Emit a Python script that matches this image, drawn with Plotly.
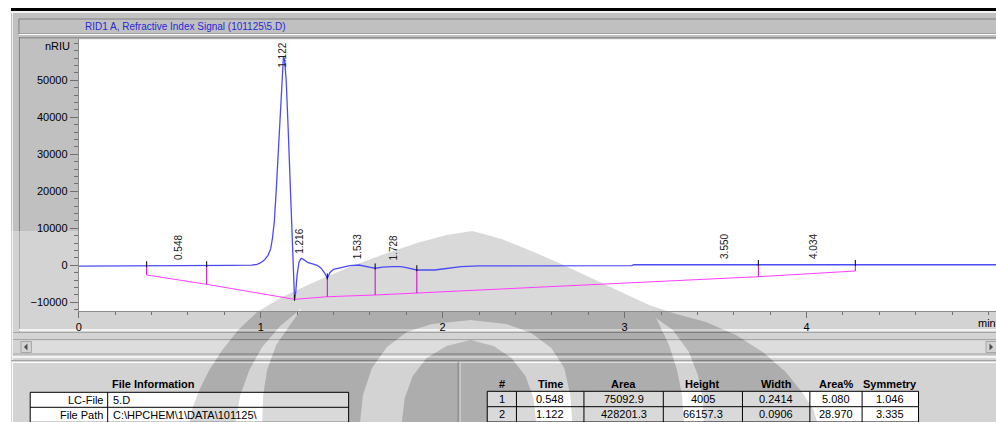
import numpy as np
import plotly.graph_objects as go

W, H = 996, 422

# ---- RID1 A chromatogram (time in min, response in nRIU)
sig_t = [0.00, 0.60, 0.82, 0.83, 0.95, 0.98, 1.00, 1.02, 1.04, 1.055, 1.065, 1.075,
         1.085, 1.095, 1.105, 1.113, 1.119, 1.125, 1.131, 1.14, 1.15, 1.16, 1.17,
         1.178, 1.186, 1.192, 1.20, 1.21, 1.222, 1.235, 1.26, 1.285, 1.31, 1.33,
         1.35, 1.366, 1.38, 1.40, 1.44, 1.49, 1.54, 1.58, 1.61, 1.63, 1.67, 1.72,
         1.77, 1.80, 1.83, 1.858, 1.90, 1.956, 2.00, 2.05, 2.10, 2.20, 2.50, 2.80,
         3.04, 3.05, 3.50, 4.00, 4.50, 5.05]
sig_v = [-200, -200, -200, 0, 50, 250, 700, 1400, 2700, 4500, 7500, 12000,
         20000, 30000, 40000, 48000, 54000, 56500, 55500, 50000, 38000, 25000, 11000,
         0, -9300, -7500, -2500, 800, 1900, 1600, 700, 400, 0, -700,
         -2000, -3500, -2000, -1100, -600, -100, 80, -200, -600, -800, -500, -380,
         -380, -600, -1000, -1270, -1270, -1270, -1000, -650, -380, -150, -100, -100,
         -100, 150, 150, 150, 150, 150]

# integration events (start / drop / end) and the baseline drawn through them
evt_t = [0.373, 0.703, 1.186, 1.366, 1.629, 1.858, 3.735, 4.268]
base_v = [-2620, -5135, -9200, -8490, -8030, -7490, -3080, -1540]

# retention times written above the peaks
peak_rt = [0.548, 1.122, 1.216, 1.533, 1.728, 3.550, 4.034]

x_tickvals = [0, 1, 2, 3, 4]
y_tickvals = [-10000, 0, 10000, 20000, 30000, 40000, 50000]

# ---- report panels
file_keys = ["LC-File", "File Path"]
file_vals = ["5.D", "C:\\HPCHEM\\1\\DATA\\101125\\"]

rep_cols = ["#", "Time", "Area", "Height", "Width", "Area%", "Symmetry"]
rep_nr = ["1", "2"]
rep_time = ["0.548", "1.122"]
rep_area = ["75092.9", "428201.3"]
rep_height = ["4005", "66157.3"]
rep_width = ["0.2414", "0.0906"]
rep_areapct = ["5.080", "28.970"]
rep_sym = ["1.046", "3.335"]

# ---- screen geometry (pixels)
PL, PR, PT, PB = 76, 996, 39.3, 311.3
PX_PER_MIN = 182.5
PX_PER_UNIT = 0.0037
Y0_PX = 265.3
x_range = [0, (PR - PL) / PX_PER_MIN]
y_range = [-(PB - Y0_PX) / PX_PER_UNIT, (Y0_PX - PT) / PX_PER_UNIT]

FONT = "Liberation Sans"
GRAY = "#c0c0c0"
DARK = "#808080"
LIGHT = "#eeeeee"


def fx(x):
    return x / W


def fy(y):
    return 1 - y / H


shapes = []
annotations = []


def rect(x0, y0, x1, y1, fill, line=None, lw=1):
    shapes.append(dict(type="rect", xref="paper", yref="paper",
                       x0=fx(x0), x1=fx(x1), y0=fy(y1), y1=fy(y0),
                       fillcolor=fill, layer="below",
                       line=dict(color=line if line else "rgba(0,0,0,0)",
                                 width=lw if line else 0)))


def seg(x0, y0, x1, y1, color, lw=1):
    shapes.append(dict(type="line", xref="paper", yref="paper",
                       x0=fx(x0), x1=fx(x1), y0=fy(y0), y1=fy(y1),
                       layer="below", line=dict(color=color, width=lw)))


def path(subpaths, fill, opacity=1.0):
    d = " ".join("M " + " L ".join(f"{fx(x):.5f},{fy(y):.5f}" for x, y in pts) + " Z"
                 for pts in subpaths)
    shapes.append(dict(type="path", xref="paper", yref="paper", path=d,
                       fillcolor=fill, opacity=opacity, layer="below",
                       fillrule="evenodd", line=dict(width=0)))


def text(x, y, s, xanchor="center", size=11, bold=False, color="#000000"):
    annotations.append(dict(xref="paper", yref="paper", x=fx(x), y=fy(y),
                            text=f"<b>{s}</b>" if bold else s, showarrow=False,
                            xanchor=xanchor, yanchor="middle",
                            font=dict(family=FONT, size=size, color=color)))


# ---- window chrome
rect(8, 11, 996, 422, GRAY)
rect(8, 8, 996, 11, "#000000")
seg(8, 12, 996, 12, "#f4f4f4", 2)
seg(9.5, 12, 9.5, 360, LIGHT)
# title bar
rect(16, 19, 997, 34, GRAY, DARK, 1)
seg(16, 34.5, 996, 34.5, "#ffffff")
# chart panel frame
seg(16, 37.8, 996, 37.8, DARK)
seg(16.5, 37, 16.5, 333, DARK)
rect(PL, PT, PR, PB, "#ffffff")
seg(16, 330, 996, 330, LIGHT, 2)
seg(10, 332.5, 996, 332.5, DARK)
# scrollbar
seg(10, 339.5, 996, 339.5, DARK)
rect(18, 341, 996, 353, "#cfcfcf")
rect(18, 341.5, 28.5, 352.5, GRAY, DARK)
rect(986, 341.5, 997, 352.5, GRAY, DARK)
path([[(21, 347), (24.5, 343.5), (24.5, 350.5)]], "#000000")
path([[(993, 347), (989.5, 343.5), (989.5, 350.5)]], "#000000")
seg(10, 354, 996, 354, DARK)
seg(10, 357, 996, 357, LIGHT, 2)
# report area
seg(8, 360.5, 996, 360.5, DARK)
seg(9, 362.5, 996, 362.5, "#ffffff")
seg(9.5, 362, 9.5, 422, "#ffffff")
seg(456.5, 362, 456.5, 422, DARK)
seg(458.5, 362, 458.5, 422, "#ffffff")

# table cell backgrounds
fi_x = [27.3, 105, 346.7]
fi_y = [392.3, 407.3, 422.3]
rp_x = [485.7, 515, 582.7, 662.3, 741.7, 809.3, 861.7, 918.3]
rp_y = [391.3, 406.7, 422]
rect(fi_x[0], fi_y[0], fi_x[-1], fi_y[-1] + 5, "#ffffff")
rect(rp_x[0], rp_y[0], rp_x[-1], rp_y[-1] + 5, "#ffffff")

# ---- faint emblem printed across the lower part of the page
emblem = [(471, 231), (500, 239), (530, 251), (560, 264), (590, 278), (620, 292),
          (648, 305), (675, 314), (705, 322), (735, 335), (762, 352), (785, 372),
          (802, 393), (813, 410), (817, 423), (187, 423), (190, 408), (197, 390),
          (207, 370), (220, 350), (236, 330), (255, 312), (280, 297), (310, 283),
          (345, 268), (380, 255), (415, 243), (445, 235)]
gap_left = [(233, 423), (238, 395), (247, 370), (260, 347), (278, 326), (300, 308),
            (288, 325), (274, 345), (265, 370), (261, 395), (260, 423)]
gap_right = [(683, 423), (681, 395), (676, 370), (668, 345), (655, 318),
             (672, 330), (688, 352), (697, 375), (702, 398), (703, 423)]
arch = [(358, 423), (361, 395), (370, 368), (385, 347), (405, 332), (430, 324),
        (469, 320), (505, 324), (530, 333), (550, 348), (563, 368), (569, 395),
        (571, 423), (535, 423), (532, 398), (524, 376), (510, 358), (492, 346),
        (469, 340), (445, 346), (425, 358), (411, 376), (403, 398), (400, 423)]
box = [(0, 231), (996, 231), (996, 423), (0, 423)]
path([box, emblem, gap_left, gap_right, arch], "#ffffff", 0.3)
path([emblem, gap_left, gap_right, arch], "#808080", 0.3)

# table grid lines
for x in fi_x:
    seg(x, fi_y[0], x, fi_y[-1] + 5, "#000000")
for y in fi_y:
    seg(fi_x[0], y, fi_x[-1], y, "#000000")
for x in rp_x:
    seg(x, rp_y[0], x, rp_y[-1] + 5, "#000000")
for y in rp_y:
    seg(rp_x[0], y, rp_x[-1], y, "#000000")

# ---- texts of the window
text(80, 27, "RID1 A, Refractive Index Signal (101125\\5.D)", "left", 10, color="#2828d8")
text(55, 46.5, "nRIU", "center", 11)
text(976, 323, "min", "left", 11)
text(150.8, 384, "File Information", "center", 11, bold=True)
for i, (k, v) in enumerate(zip(file_keys, file_vals)):
    yc = (fi_y[i] + fi_y[i + 1]) / 2
    text(fi_x[1] - 3, yc, k, "right", 11)
    text(fi_x[1] + 3, yc, v, "left", 11)
for j, c in enumerate(rep_cols):
    text((rp_x[j] + rp_x[j + 1]) / 2, 384, c, "center", 11, bold=True)
rows = list(zip(rep_nr, rep_time, rep_area, rep_height, rep_width, rep_areapct, rep_sym))
for i, row in enumerate(rows):
    yc = (rp_y[i] + rp_y[i + 1]) / 2
    for j, val in enumerate(row):
        text((rp_x[j] + rp_x[j + 1]) / 2, yc, val, "center", 11)

# ---- traces
sig_at_evt = np.interp(evt_t, sig_t, sig_v)
drop_x, drop_y, tick_x, tick_y = [], [], [], []
for t, b, s in zip(evt_t, base_v, sig_at_evt):
    drop_x += [t, t, None]
    drop_y += [s, b, None]
    tick_x += [t, t, None]
    tick_y += [s - 300, s + 1300, None]

fig = go.Figure()
fig.add_trace(go.Scatter(x=evt_t, y=base_v, mode="lines",
                         line=dict(color="#ff3cff", width=1), hoverinfo="skip"))
fig.add_trace(go.Scatter(x=drop_x, y=drop_y, mode="lines",
                         line=dict(color="#c800c8", width=1), hoverinfo="skip"))
fig.add_trace(go.Scatter(x=sig_t, y=sig_v, mode="lines",
                         line=dict(color="#4b4bf5", width=1.3)))
fig.add_trace(go.Scatter(x=tick_x, y=tick_y, mode="lines",
                         line=dict(color="#000000", width=1), hoverinfo="skip"))

# retention time labels, kept inside the plotting area
label_len = 27 / PX_PER_UNIT
gap = 4 / PX_PER_UNIT
for rt in peak_rt:
    v = float(np.interp(rt, sig_t, sig_v))
    lab = dict(x=rt, xref="x", yref="y", text=f"{rt:.3f}", showarrow=False,
               textangle=-90, xanchor="center",
               font=dict(family=FONT, size=10, color="#202020"))
    if v + gap + label_len > y_range[1]:
        lab.update(y=y_range[1], yanchor="top", yshift=-1)
    else:
        lab.update(y=v, yanchor="bottom", yshift=4)
    annotations.append(lab)

axis_common = dict(showgrid=False, zeroline=False, showline=True, linecolor="#8c8c8c",
                   linewidth=1, ticks="outside", tickcolor="#707070",
                   tickfont=dict(family=FONT, size=11, color="#000000"))
fig.update_xaxes(range=x_range, domain=[fx(PL), 1], tickvals=x_tickvals, ticklen=6,
                 ticklabelstandoff=-1,
                 minor=dict(dtick=0.2, ticklen=3, ticks="outside", tickcolor="#707070"),
                 **axis_common)
fig.update_yaxes(range=y_range, domain=[fy(PB), fy(PT)], tickvals=y_tickvals, ticklen=8,
                 tickformat="d",
                 minor=dict(dtick=2000, ticklen=4, ticks="outside", tickcolor="#707070"),
                 **axis_common)

fig.update_layout(width=W, height=H, margin=dict(l=0, r=0, t=0, b=0),
                  paper_bgcolor="#ffffff", plot_bgcolor="rgba(0,0,0,0)",
                  showlegend=False, shapes=shapes, annotations=annotations)
fig.write_html("out.html")
